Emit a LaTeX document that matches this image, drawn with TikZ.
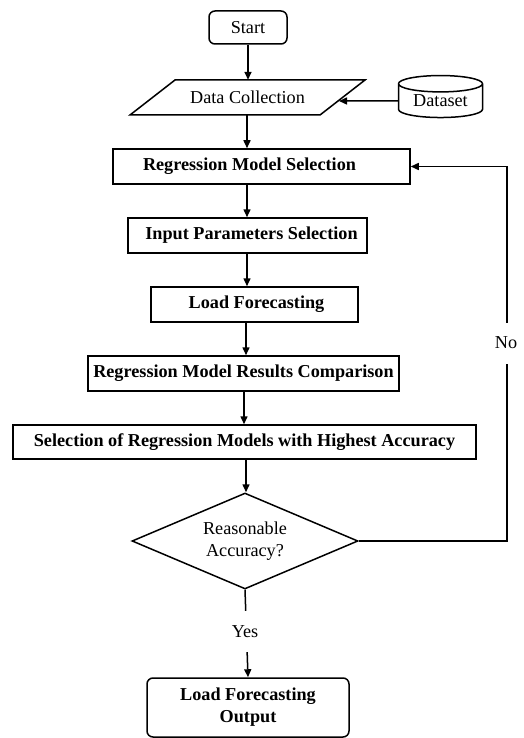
\documentclass[tikz,border=0pt]{standalone}
\usepackage{fontspec}
\setmainfont{Liberation Serif}
\usetikzlibrary{shapes.geometric,arrows.meta}
\begin{document}
\begin{tikzpicture}[x=1pt,y=-1pt,
  every node/.style={font=\fontsize{18.2}{22}\selectfont, inner sep=0pt},
  line/.style={line width=1.5pt, draw=black},
  arr/.style={line, -{Triangle[length=8pt,width=7pt]}},
  boxn/.style={draw, line width=1.5pt, rectangle, font=\fontsize{18.2}{22}\selectfont\bfseries},
  roundn/.style={draw, line width=1.5pt, rectangle, rounded corners=6pt},
  lbl/.style={fill=white, minimum height=41pt, inner sep=3pt}
]
\useasboundingbox (0,0) rectangle (524,738);
\fill[white] (0,0) rectangle (524,738);

\node[roundn, minimum width=78pt, minimum height=33pt] (start) at (248,27.5) {Start};
\node[minimum width=190pt, minimum height=35pt] (dc) at (247.5,97.5) {Data Collection};
\draw[line, line join=miter] (130,115) -- (175,80) -- (365,80) -- (320,115) -- cycle;
\coordinate (dcin) at (339,101);
\node[draw, line width=1.5pt, cylinder, shape border rotate=90, aspect=0.3,
      minimum width=84pt, minimum height=42pt] (ds) at (440.5,101) {Dataset};
\node[boxn, minimum width=297pt, minimum height=35pt] (rms) at (261.5,166.5) {\hspace*{-24pt}Regression Model Selection};
\node[boxn, minimum width=239pt, minimum height=35pt] (ips) at (247.5,235.5) {\hspace*{8pt}Input Parameters Selection};
\node[boxn, minimum width=207pt, minimum height=35pt] (lf) at (254.5,304.5) {\hspace*{4pt}Load Forecasting};
\node[boxn, minimum width=311pt, minimum height=35pt] (rmrc) at (243.5,373.5) {Regression Model Results Comparison};
\node[boxn, minimum width=463pt, minimum height=34pt] (srm) at (244.5,442) {Selection of Regression Models with Highest Accuracy};
\node[draw, line width=1.5pt, diamond, aspect=2.35, minimum width=226pt, minimum height=96pt, align=center,
      font=\fontsize{18.2}{22}\selectfont] (dia) at (245,541) {Reasonable\\Accuracy?};
\node[roundn, minimum width=202pt, minimum height=59pt, align=center,
      font=\fontsize{18.2}{22}\selectfont\bfseries] (out) at (248,707.5) {Load Forecasting\\Output};

\coordinate (c0) at (248,0);
\coordinate (c1) at (247,0);
\coordinate (c2) at (246,0);
\coordinate (c3) at (244,0);
\coordinate (fb) at (507,166.5);

\draw[arr] (start.south -| c0) -- (dc.north -| c0);
\draw[arr] (ds.west) -- (dcin);
\draw[arr] (dc.south -| c1) -- (rms.north -| c1);
\draw[arr] (rms.south -| c1) -- (ips.north -| c1);
\draw[arr] (ips.south -| c1) -- (lf.north -| c1);
\draw[arr] (lf.south -| c2) -- (rmrc.north -| c2);
\draw[arr] (rmrc.south -| c3) -- (srm.north -| c3);
\draw[arr] (srm.south -| c2) -- (dia.north -| c2);

\draw[arr] (dia.east) -- (dia.east -| fb) -- (fb) -- (rms.east);
\node[lbl] (no) at (506,343) {No};
\draw[arr] (dia.south) -- (out.north);
\node[lbl] (yes) at (245,631.5) {Yes};
\end{tikzpicture}
\end{document}
